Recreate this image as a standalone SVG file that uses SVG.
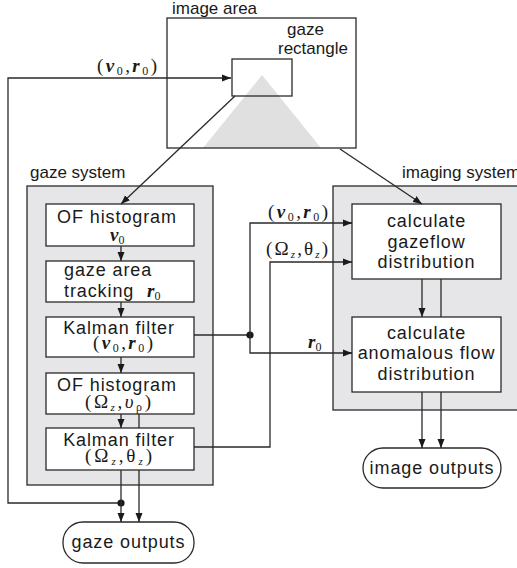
<svg xmlns="http://www.w3.org/2000/svg" width="517" height="568" viewBox="0 0 517 568">
<style>
.ln{fill:none;stroke:#2a2a2a;stroke-width:1.3}
.bx{fill:#fff;stroke:#2a2a2a;stroke-width:1.3}
.gr{fill:#e6e6e8;stroke:#2a2a2a;stroke-width:1.3}
.t{font-family:"Liberation Sans",Arial,sans-serif;font-size:18px;fill:#1a1a1a;letter-spacing:0.9px}
.lb{font-family:"Liberation Sans",Arial,sans-serif;font-size:17px;fill:#1a1a1a}
.m{font-family:"Liberation Serif","Times New Roman",serif;font-size:19px;fill:#1a1a1a}
.bi{font-weight:bold;font-style:italic}
.s{font-size:12px}
.si{font-size:11px;font-style:italic}
.c{text-anchor:middle}
</style>
<defs>
<marker id="ah" markerUnits="userSpaceOnUse" markerWidth="10" markerHeight="8" refX="9" refY="4" orient="auto">
<path d="M0,0.5 L9,4 L0,7.5 z" fill="#1a1a1a"/>
</marker>
</defs>

<g id="image-area">
<polygon points="262,75 203,148 321,148" fill="#e0e0e0"/>
<rect x="167" y="18" width="189" height="130" class="ln"/>
<text x="172" y="14" class="lb">image area</text>
</g>
<g id="gaze-rectangle">
<rect x="232" y="59" width="60" height="37" class="ln"/>
<text x="287" y="35" class="lb">gaze</text>
<text x="278" y="54" class="lb">rectangle</text>
</g>

<g id="gaze-system">
<rect x="27" y="186" width="186" height="299" class="gr"/>
<text x="30" y="178" class="lb">gaze system</text>
</g>
<g id="imaging-system">
<rect x="333" y="186" width="200" height="224" class="gr"/>
<text x="402" y="178" class="lb">imaging system</text>
</g>

<g id="of-histogram-1">
<rect x="46" y="204" width="148" height="42" class="bx"/>
<text x="117" y="223" class="t c">OF histogram</text>
<text x="110" y="241" class="m"><tspan class="bi">v</tspan><tspan class="s" dy="3">0</tspan></text>
</g>
<g id="gaze-area-tracking">
<rect x="46" y="261" width="148" height="41" class="bx"/>
<text x="64" y="276" class="t">gaze area</text>
<text x="64" y="297" class="t">tracking</text>
<text x="147" y="297" class="m"><tspan class="bi">r</tspan><tspan class="s" dy="3">0</tspan></text>
</g>
<g id="kalman-filter-1">
<rect x="46" y="317" width="148" height="40" class="bx"/>
<text x="119" y="334" class="t c">Kalman filter</text>
<text x="93" y="349" class="m" textLength="60" lengthAdjust="spacing">(<tspan class="bi">v</tspan><tspan class="s" dy="3">0</tspan><tspan dy="-3">,</tspan><tspan class="bi">r</tspan><tspan class="s" dy="3">0</tspan><tspan dy="-3">)</tspan></text>
</g>
<g id="of-histogram-2">
<rect x="46" y="373" width="148" height="41" class="bx"/>
<text x="117" y="391" class="t c">OF histogram</text>
<text x="85" y="408" class="m" textLength="66" lengthAdjust="spacing">(Ω<tspan class="si" dy="3">z</tspan><tspan dy="-3">,</tspan><tspan font-style="italic">υ</tspan><tspan class="s" dy="3">ρ</tspan><tspan dy="-3">)</tspan></text>
</g>
<g id="kalman-filter-2">
<rect x="46" y="428" width="148" height="42" class="bx"/>
<text x="119" y="446" class="t c">Kalman filter</text>
<text x="85" y="462" class="m" textLength="67" lengthAdjust="spacing">(Ω<tspan class="si" dy="3">z</tspan><tspan dy="-3">,θ</tspan><tspan class="si" dy="3">z</tspan><tspan dy="-3">)</tspan></text>
</g>
<g id="gaze-outputs">
<rect x="63" y="522" width="131" height="41" rx="20" ry="20" class="bx"/>
<text x="128.5" y="548" class="t c">gaze outputs</text>
</g>

<g id="calc-gazeflow">
<rect x="352" y="204" width="149" height="75" class="bx"/>
<text x="426.5" y="227" class="t c">calculate</text>
<text x="426.5" y="248" class="t c">gazeflow</text>
<text x="426.5" y="268" class="t c">distribution</text>
</g>
<g id="calc-anomalous">
<rect x="352" y="317" width="149" height="75" class="bx"/>
<text x="426.5" y="339" class="t c">calculate</text>
<text x="426.5" y="359" class="t c">anomalous flow</text>
<text x="426.5" y="380" class="t c">distribution</text>
</g>
<g id="image-outputs">
<rect x="363" y="448" width="138" height="40" rx="20" ry="20" class="bx"/>
<text x="432" y="474" class="t c">image outputs</text>
</g>

<g id="connectors">
<polyline points="121,503 8,503 8,78 231,78" class="ln" marker-end="url(#ah)"/>
<circle cx="121" cy="503" r="3.6" fill="#1a1a1a"/>
<line x1="235" y1="96" x2="121" y2="204" class="ln" marker-end="url(#ah)"/>
<line x1="340" y1="149" x2="422" y2="204" class="ln" marker-end="url(#ah)"/>
<line x1="121" y1="246" x2="121" y2="261" class="ln" marker-end="url(#ah)"/>
<line x1="121" y1="302" x2="121" y2="317" class="ln" marker-end="url(#ah)"/>
<line x1="121" y1="357" x2="121" y2="373" class="ln" marker-end="url(#ah)"/>
<line x1="121" y1="414" x2="121" y2="428" class="ln" marker-end="url(#ah)"/>
<line x1="139" y1="414" x2="139" y2="428" class="ln"/>
<line x1="121" y1="470" x2="121" y2="522" class="ln" marker-end="url(#ah)"/>
<line x1="139" y1="470" x2="139" y2="522" class="ln" marker-end="url(#ah)"/>
<line x1="194" y1="335" x2="250" y2="335" class="ln"/>
<circle cx="250" cy="335" r="3.6" fill="#1a1a1a"/>
<polyline points="352,223 250,223 250,353 352,353" class="ln"/>
<line x1="343" y1="223" x2="352" y2="223" class="ln" marker-end="url(#ah)"/>
<line x1="343" y1="353" x2="352" y2="353" class="ln" marker-end="url(#ah)"/>
<polyline points="194,447 270,447 270,262 352,262" class="ln" marker-end="url(#ah)"/>
<line x1="422" y1="279" x2="422" y2="317" class="ln" marker-end="url(#ah)"/>
<line x1="441" y1="279" x2="441" y2="317" class="ln"/>
<line x1="422" y1="392" x2="422" y2="448" class="ln" marker-end="url(#ah)"/>
<line x1="441" y1="392" x2="441" y2="448" class="ln" marker-end="url(#ah)"/>
<text x="97" y="72" class="m" textLength="60" lengthAdjust="spacing">(<tspan class="bi">v</tspan><tspan class="s" dy="3">0</tspan><tspan dy="-3">,</tspan><tspan class="bi">r</tspan><tspan class="s" dy="3">0</tspan><tspan dy="-3">)</tspan></text>
<text x="268" y="218" class="m" textLength="60" lengthAdjust="spacing">(<tspan class="bi">v</tspan><tspan class="s" dy="3">0</tspan><tspan dy="-3">,</tspan><tspan class="bi">r</tspan><tspan class="s" dy="3">0</tspan><tspan dy="-3">)</tspan></text>
<text x="266" y="255" class="m" textLength="62" lengthAdjust="spacing">(Ω<tspan class="si" dy="3">z</tspan><tspan dy="-3">,θ</tspan><tspan class="si" dy="3">z</tspan><tspan dy="-3">)</tspan></text>
<text x="308" y="348" class="m"><tspan class="bi">r</tspan><tspan class="s" dy="3">0</tspan></text>
</g>
</svg>
